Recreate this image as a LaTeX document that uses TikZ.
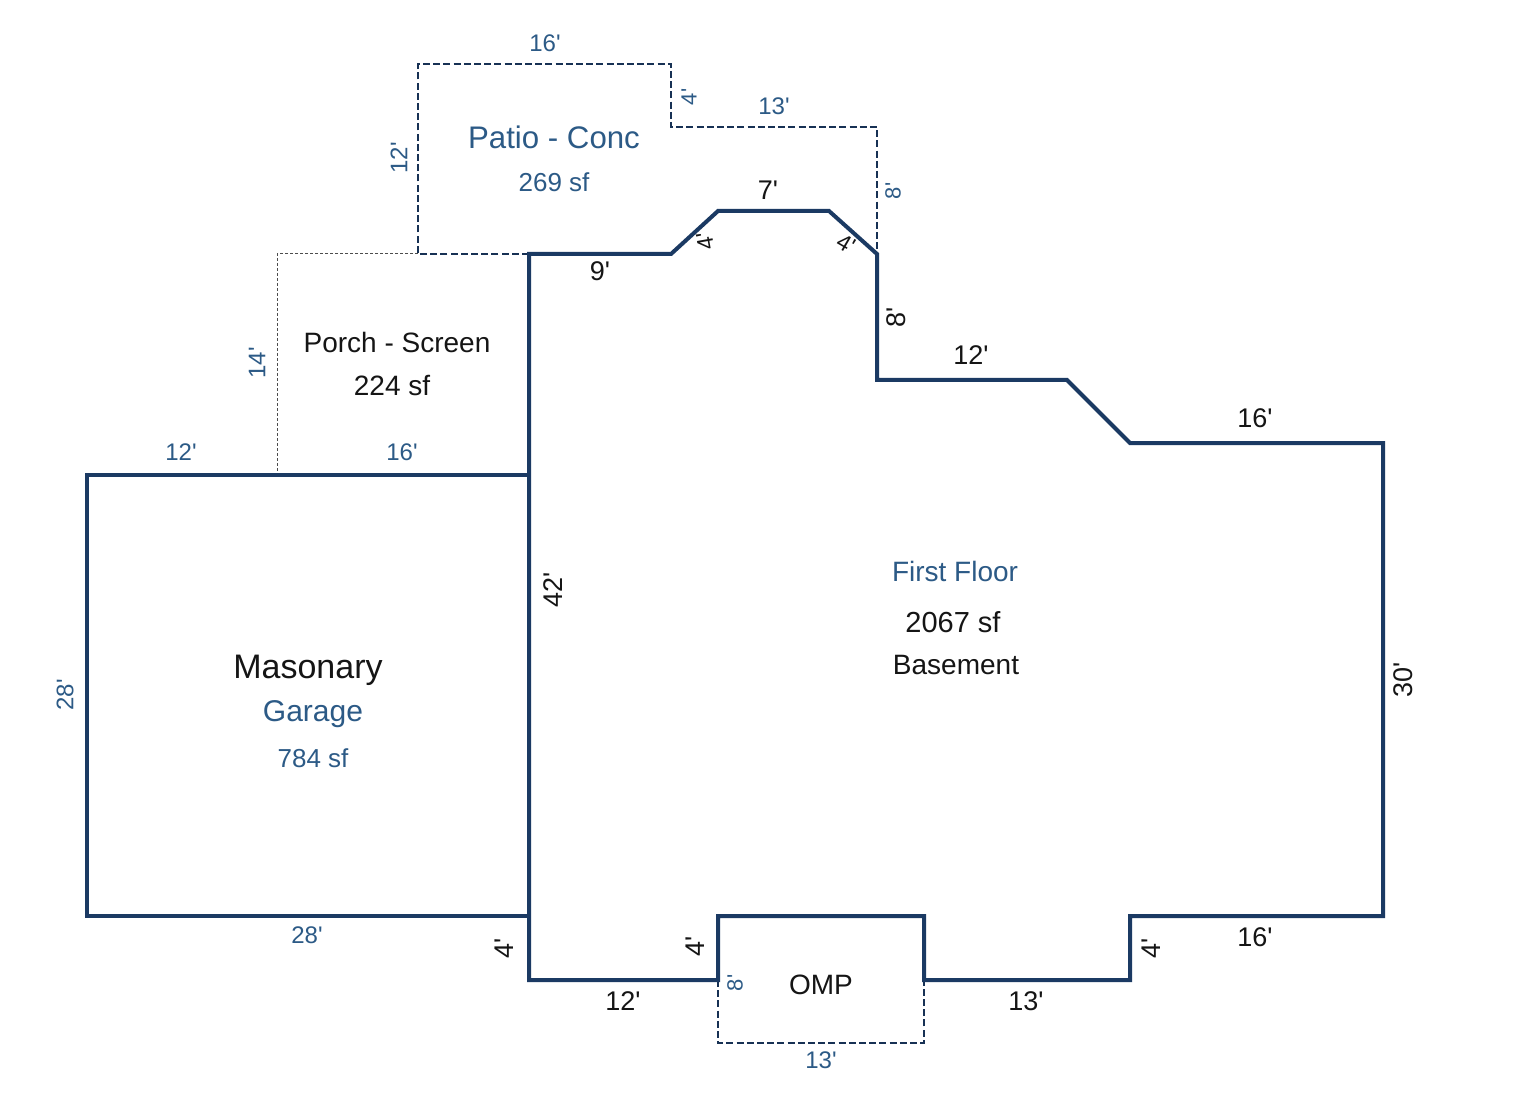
\documentclass[tikz,border=0pt]{standalone}
\usepackage{fontspec}
\setmainfont{Liberation Sans}[Ligatures=TeXOff]
\definecolor{wallc}{HTML}{1B3A63}
\definecolor{bluet}{HTML}{2C5A86}
\definecolor{blackt}{HTML}{151515}
\newcommand{\fsz}[1]{\fontsize{#1}{#1}\selectfont}
\tikzset{
  wall/.style={draw=wallc,line width=2pt,line join=miter},
  dashline/.style={draw=wallc!85!black,line width=0.85pt,dash pattern=on 3.5pt off 1.6pt},
  dotline/.style={draw=black!70,line width=0.5pt,dash pattern=on 1.5pt off 1pt},
  lab/.style={inner sep=0pt,anchor=center},
  blk/.style={lab,text=blackt},
  blu/.style={lab,text=bluet},
  dimk/.style={blk,font=\fsz{13.5}},
  dimb/.style={blu,font=\fsz{12}},
  dims/.style={blu,font=\fsz{11}},
  dimt/.style={blk,font=\fsz{11.5}}
}
\begin{document}
\begin{tikzpicture}[x=0.5pt,y=-0.5pt]
\useasboundingbox[fill=white] (0,0) rectangle (1520,1117);
% patio
\draw[dashline] (529,254) -- (418,254) -- (418,64) -- (671,64) -- (671,127) -- (877,127) -- (877,254);
% porch
\draw[dotline] (418,254) -- (277,254) -- (277,475);
% OMP
\draw[dashline] (718,980) -- (718,1043) -- (924,1043) -- (924,980);
% garage
\draw[wall] (529,475) -- (87,475) -- (87,916) -- (529,916);
% first floor
\draw[wall] (529,254) -- (671,254) -- (718,211) -- (829,211) -- (877,254) -- (877,380) -- (1067,380) -- (1130,443) -- (1383,443) -- (1383,916) -- (1130,916) -- (1130,980) -- (924,980) -- (924,916) -- (718,916) -- (718,980) -- (529,980) -- cycle;
% area labels
\node[blu,font=\fsz{15.6}] (patio) at (554,137) {Patio - Conc};
\node[blu,font=\fsz{13}] (patioa) at (554,182) {269 sf};
\node[blk,font=\fsz{14}] (porch) at (397,342) {Porch - Screen};
\node[blk,font=\fsz{14}] (porcha) at (392,386) {224 sf};
\node[blk,font=\fsz{17}] (mas) at (308,670) {Masonary};
\node[blu,font=\fsz{15}] (gar) at (313,714) {Garage};
\node[blu,font=\fsz{13}] (gara) at (313,758) {784 sf};
\node[blu,font=\fsz{14}] (ff) at (955,571) {First Floor};
\node[blk,font=\fsz{14.5}] (ffa) at (953,622) {2067 sf};
\node[blk,font=\fsz{14}] (bas) at (956,665) {Basement};
\node[blk,font=\fsz{14}] (omp) at (821,985) {OMP};
% dimensions
\node[dimb] (d1) at (545,43) {16'};
\node[dims,rotate=90] (d2) at (689,97) {4'};
\node[dimb] (d3) at (774,106) {13'};
\node[dimb,rotate=90] (d4) at (399,158) {12'};
\node[dimk] (d5) at (768,190) {7'};
\node[dims,rotate=90] (d6) at (893,191) {8'};
\node[dimt,rotate=100] (d7) at (705,241) {4'};
\node[dimt,rotate=-30] (d8) at (846,244) {4'};
\node[dimk] (d9) at (600,271) {9'};
\node[dimk,rotate=90] (d10) at (896,317) {8'};
\node[dimk] (d11) at (971,355) {12'};
\node[dimk] (d12) at (1255,418) {16'};
\node[dimb,rotate=90] (d13) at (257,363) {14'};
\node[dimb] (d14) at (181,452) {12'};
\node[dimb] (d15) at (402,452) {16'};
\node[dimk,rotate=90] (d16) at (553,590) {42'};
\node[dimb,rotate=90] (d17) at (65,695) {28'};
\node[dimk,rotate=90] (d18) at (1403,680) {30'};
\node[dimb] (d19) at (307,935) {28'};
\node[dimk,rotate=90] (d20) at (504,948) {4'};
\node[dimk,rotate=90] (d21) at (695,946) {4'};
\node[dimk,rotate=90] (d22) at (1151,948) {4'};
\node[dimk] (d23) at (1255,937) {16'};
\node[dims,rotate=90] (d24) at (735,983) {8'};
\node[dimk] (d25) at (623,1001) {12'};
\node[dimk] (d26) at (1026,1001) {13'};
\node[dimb] (d27) at (821,1060) {13'};
\end{tikzpicture}
\end{document}
